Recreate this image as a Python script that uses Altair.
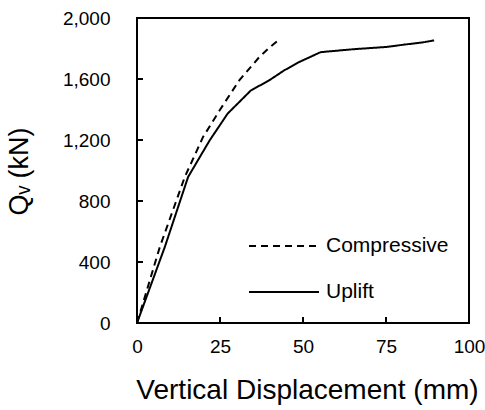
import altair as alt
import pandas as pd

# Uplift (solid)
up_x = [0, 8.4, 15.4, 21.9, 27.3, 34.3, 39.8, 44.3, 48.8, 55.3, 65, 75, 80.7, 86, 89.5]
up_y = [0, 500, 958, 1198, 1373, 1525, 1591, 1656, 1711, 1776, 1795, 1810, 1826, 1840, 1853]
# Compressive (dashed)
co_x = [0, 6.9, 14.4, 19.9, 24.9, 30.8, 36.8, 40.0, 42.8]
co_y = [0, 500, 958, 1220, 1395, 1591, 1743, 1808, 1858]

series = ["Compressive", "Uplift"]
x_ticks = [0, 25, 50, 75, 100]
y_ticks = [0, 400, 800, 1200, 1600, 2000]

rows = []
for i, (x, y) in enumerate(zip(co_x, co_y)):
    rows.append({"s": "Compressive", "x": x, "y": y, "o": i})
for i, (x, y) in enumerate(zip(up_x, up_y)):
    rows.append({"s": "Uplift", "x": x, "y": y, "o": i})
df = pd.DataFrame(rows)
xt = pd.DataFrame({"tx": x_ticks, "t0": 0, "t1": 40})
yt = pd.DataFrame({"ty": y_ticks, "t0": 0, "t1": 1.8})

FONT = "Liberation Sans"
W, H = 332, 305

xs = alt.Scale(domain=[0, 100], nice=False)
ys = alt.Scale(domain=[0, 2000], nice=False)

x_axis = alt.Axis(
    values=x_ticks, title="Vertical Displacement (mm)", grid=False, orient="bottom",
    tickSize=0, domain=False, labelPadding=14, labelFontSize=19, labelFlush=False,
    labelFont=FONT, labelColor="black", titleFont=FONT, titleFontSize=28,
    titleFontWeight="normal", titleColor="black",
    titleX=W / 2 + 4, titleY=75, titleBaseline="alphabetic", titleAlign="center")
y_axis = alt.Axis(
    values=y_ticks, format=",d", title="Qᵥ (kN)", grid=False, orient="left",
    tickSize=0, domain=False, labelPadding=27, labelFontSize=19, labelFlush=False,
    labelFont=FONT, labelColor="black", titleFont=FONT, titleFontSize=27,
    titleFontWeight="normal", titleColor="black",
    titleX=-110, titleY=153, titleAngle=-90, titleBaseline="alphabetic",
    titleAlign="center")

main = alt.Chart(df).mark_line(strokeWidth=2, color="black").encode(
    x=alt.X("x:Q", scale=xs, axis=x_axis),
    y=alt.Y("y:Q", scale=ys, axis=y_axis),
    strokeDash=alt.StrokeDash("s:N", scale=alt.Scale(domain=series, range=[[7, 5], [1, 0]]),
                              legend=alt.Legend(
                                  title=None, orient="none", legendX=111, legendY=192,
                                  symbolType="stroke", symbolSize=4900, symbolStrokeWidth=2,
                                  symbolStrokeColor="black", labelFont=FONT, labelFontSize=21,
                                  labelColor="black", rowPadding=0, labelOffset=6)),
    order="o:Q",
)

xticks = alt.Chart(xt).mark_rule(color="black", strokeWidth=2).encode(
    x=alt.X("tx:Q", scale=xs),
    y=alt.Y("t0:Q", scale=ys),
    y2="t1:Q",
)
yticks = alt.Chart(yt).mark_rule(color="black", strokeWidth=2).encode(
    y=alt.Y("ty:Q", scale=ys),
    x=alt.X("t0:Q", scale=xs),
    x2="t1:Q",
)

chart = alt.layer(main, xticks, yticks).properties(
    width=W, height=H,
    autosize=alt.AutoSizeParams(type="none"),
    padding={"left": 137, "top": 18, "right": 16, "bottom": 87},
    background="white",
).configure_view(stroke="black", strokeWidth=2)

chart.save("out.html", embed_options={"renderer": "svg", "actions": False})
